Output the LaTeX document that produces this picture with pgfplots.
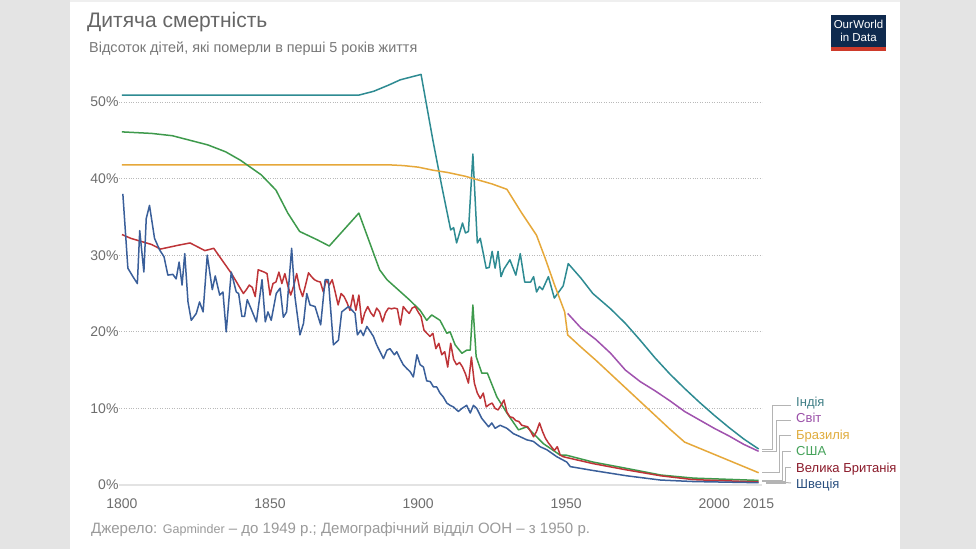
\documentclass[border=0pt]{standalone}
\usepackage{fontspec}
\setmainfont{Liberation Sans}
\usepackage{pgfplots}
\pgfplotsset{compat=1.18}
\definecolor{cIndia}{HTML}{2E8B92}
\definecolor{cWorld}{HTML}{A052AE}
\definecolor{cBrazil}{HTML}{E6A83A}
\definecolor{cUSA}{HTML}{3E9A4C}
\definecolor{cUK}{HTML}{BE3438}
\definecolor{cSweden}{HTML}{3A5F9A}
\definecolor{lIndia}{HTML}{3F7F86}
\definecolor{lWorld}{HTML}{9A4FA8}
\definecolor{lBrazil}{HTML}{E0AC3C}
\definecolor{lUSA}{HTML}{45A25A}
\definecolor{lUK}{HTML}{8B1A2A}
\definecolor{lSweden}{HTML}{2A5080}
\definecolor{panel}{HTML}{E4E4E4}
\definecolor{titlegray}{HTML}{666666}
\definecolor{subgray}{HTML}{777777}
\definecolor{tickgray}{HTML}{6E6E6E}
\definecolor{srcgray}{HTML}{9A9A9A}
\definecolor{owidnavy}{HTML}{0F2A4E}
\definecolor{owidred}{HTML}{CE3A2A}
\definecolor{conn}{HTML}{B4B4B4}
\begin{document}
\begin{tikzpicture}
\fill[white] (0,0) rectangle (976pt,-549pt);
\fill[panel] (0,0) rectangle (70pt,-549pt);
\fill[panel] (900pt,0) rectangle (976pt,-549pt);
\fill[panel!60] (70pt,0) rectangle (900pt,-2pt);
\useasboundingbox (0,0) rectangle (976pt,-549pt);
% title
\node[anchor=base west, inner sep=0, font=\fontsize{21}{25}\selectfont, text=titlegray] at (87pt,-27pt) {Дитяча смертність};
\node[anchor=base west, inner sep=0, font=\fontsize{14.4}{17}\selectfont, text=subgray] at (89pt,-52pt) {Відсоток дітей, які померли в перші 5 років життя};
% logo
\fill[owidnavy] (831pt,-15pt) rectangle (886pt,-47pt);
\fill[owidred] (831pt,-47pt) rectangle (886pt,-51pt);
\node[align=center, inner sep=0, text=white, font=\fontsize{11.5}{12.5}\selectfont] at (858.5pt,-31pt) {Our\kern0.5pt World\\in Data};
\begin{axis}[
  at={(119pt,-485pt)}, anchor=south west,
  scale only axis, width=643.2pt, height=421.3pt,
  xmin=1799, xmax=2016.2, ymin=0, ymax=55,
  axis line style={draw=none}, major tick length=0pt,
  xtick={1800,1850,1900,1950,2000,2015},
  ytick={10,20,30,40,50},
  yticklabel={\pgfmathprintnumber{\tick}\%},
  extra y ticks={0},
  extra y tick labels={0\%},
  extra y tick style={ymajorgrids=true, major grid style={solid, draw=gray!22, line width=1.6pt}},
  ymajorgrids, major grid style={dotted, draw=gray!55, line width=0.7pt},
  /pgf/number format/assume math mode=true,
  /pgf/number format/1000 sep={},
  x tick label style={font=\fontsize{14}{16}\selectfont, text=tickgray, yshift=-10pt},
  y tick label style={font=\fontsize{14}{16}\selectfont, text=tickgray, xshift=3pt},
  every axis plot/.append style={line width=1.5pt, line join=round, mark=none},
]
% India
\addplot[cIndia] coordinates {
(1800,50.9) (1880,50.9) (1885,51.4) (1890,52.2) (1894,52.9) (1897,53.2) (1899,53.4) (1901,53.6)
(1905,45.0) (1908,39.0) (1911,33.3) (1912,33.6) (1913,31.6) (1915,34.2) (1916,32.9) (1917,33.1)
(1918.5,43.2) (1920,31.6) (1921,32.2) (1923,28.3) (1924,28.4) (1925,30.5) (1926,28.3) (1927,30.5)
(1928,27.2) (1929,28.2) (1930,28.8) (1931,29.4) (1933,27.4) (1934.5,30.2) (1936,26.5) (1938,26.5)
(1939,27.2) (1940,25.2) (1941,25.9) (1942,25.5) (1944,27.2) (1946,24.4) (1949,26.0) (1950.7,28.9)
(1955,27.0) (1959,25.0) (1965,23.0) (1970,21.1) (1975,18.9) (1980,16.6) (1985,14.5) (1990,12.6)
(1995,10.8) (2000,9.1) (2005,7.5) (2010,6.0) (2015,4.7)};
% World
\addplot[cWorld] coordinates {
(1950.5,22.4) (1955,20.5) (1960,19.0) (1965,17.2) (1970,15.0) (1975,13.5) (1980,12.3) (1985,11.0)
(1990,9.6) (1995,8.5) (2000,7.4) (2005,6.4) (2010,5.3) (2015,4.4)};
% Brazil
\addplot[cBrazil] coordinates {
(1800,41.8) (1890,41.8) (1895,41.7) (1900,41.5) (1905,41.1) (1910,40.8) (1916,40.3) (1925,39.3)
(1930,38.6) (1935,35.5) (1940,32.6) (1943,29.5) (1946,26.2) (1949.5,22.6) (1950.5,19.6) (1955,18.0)
(1960,16.3) (1965,14.5) (1970,12.7) (1975,10.9) (1980,9.1) (1985,7.3) (1990,5.6) (1995,4.8)
(2000,4.0) (2005,3.2) (2010,2.4) (2015,1.6)};
% USA
\addplot[cUSA] coordinates {
(1800,46.1) (1810,45.9) (1817,45.6) (1823,45.0) (1829,44.4) (1835,43.5) (1840,42.4) (1847,40.5)
(1852,38.5) (1856,35.5) (1860,33.1) (1866,32.0) (1870,31.2) (1880,35.5) (1887,28.1) (1889.5,26.8)
(1897,24.2) (1900.7,22.8) (1902.9,21.5) (1904.6,22.2) (1907.4,21.5) (1909.7,19.8) (1910.8,20.0)
(1912.5,18.3) (1914.8,17.2) (1916.4,17.6) (1917.6,17.6) (1918.5,23.5) (1919.6,16.8) (1921.5,14.6)
(1923.4,14.6) (1926.6,11.5) (1930,9.4) (1933.9,7.2) (1936.7,7.6) (1942.3,5.4) (1948,3.9) (1950,3.9)
(1959,3.0) (1970,2.2) (1982,1.3) (1993,0.9) (2015,0.6)};
% UK
\addplot[cUK] coordinates {
(1800,32.7) (1803,32.2) (1810,31.4) (1813,30.8) (1819,31.3) (1823,31.6) (1828,30.6) (1831,30.9)
(1837,27.6) (1841,25.0) (1842,25.5) (1843,26.1) (1844,25.8) (1845,24.6) (1846,28.1) (1848,27.8)
(1849,27.6) (1850,24.8) (1851,26.3) (1852,26.5) (1853,27.8) (1854,26.3) (1855,27.6) (1856,26.0)
(1857,24.8) (1858,26.0) (1859,27.6) (1860,25.7) (1861,24.6) (1862,26.1) (1863,27.7) (1864,27.2)
(1865,26.8) (1866,26.6) (1867,26.5) (1868,25.2) (1869,26.8) (1870,26.1) (1871,26.8) (1872,25.2)
(1873,23.5) (1874,25.0) (1875,24.6) (1876,23.8) (1877,22.8) (1878,24.8) (1879,22.8) (1880,24.8)
(1881,21.1) (1882,22.5) (1883,23.3) (1884,22.5) (1885,22.0) (1886,23.1) (1887,22.6) (1888,21.3)
(1889,22.5) (1890,23.1) (1891,23.0) (1892,23.1) (1893,23.0) (1894,20.9) (1895,23.3) (1896,22.8)
(1897,22.4) (1898,23.1) (1899,23.3) (1900,22.6) (1901,22.0) (1902,20.2) (1903,19.8) (1904,19.4)
(1905,19.8) (1906,17.8) (1907,18.5) (1908,17.0) (1909,17.4) (1910,15.4) (1911,18.5) (1912,16.4)
(1913,15.7) (1914,16.0) (1915,15.4) (1916,14.5) (1917,13.3) (1918,16.7) (1919,13.3) (1920,12.0)
(1921,11.3) (1922,12.0) (1923,10.2) (1924,10.5) (1925,10.7) (1926,10.0) (1927,9.8) (1928,10.4)
(1929,11.1) (1930,9.5) (1931,8.9) (1932,8.8) (1933,8.4) (1934,8.3) (1935,7.8) (1936,7.7) (1937,7.6)
(1938,7.0) (1939,6.3) (1940,7.0) (1941,8.1) (1942,7.0) (1943,6.1) (1944,5.5) (1945,5.0) (1946,4.5)
(1947,5.0) (1948,3.9) (1949,3.7) (1950,3.6) (1959,2.8) (1970,2.0) (1982,1.2) (1993,0.7) (2015,0.4)};
% Sweden
\addplot[cSweden] coordinates {
(1800.3,38.0) (1802,28.3) (1803.7,27.2) (1805.2,26.3) (1806,33.2) (1807.4,27.8) (1808.2,34.8)
(1809.3,36.5) (1811,32.2) (1812.7,30.7) (1814.2,29.8) (1815.5,27.4) (1817.2,27.5) (1818.3,26.9)
(1819.3,29.1) (1820.3,26.1) (1821.2,30.2) (1822.3,23.9) (1823.4,21.5) (1825.1,22.4) (1826.2,23.9)
(1827.4,22.6) (1828.8,30.0) (1830.5,25.5) (1831.5,27.3) (1833,24.8) (1834.1,25.2) (1835.2,20.0)
(1836.9,27.8) (1838.6,25.2) (1839.4,25.0) (1840.5,22.0) (1841.4,22.0) (1842.3,24.2) (1843.5,23.1)
(1845.4,21.3) (1847.3,26.8) (1848.4,21.3) (1849.3,22.6) (1850.4,21.5) (1852.1,25.0) (1853.4,25.7)
(1854.5,21.9) (1855.6,22.6) (1857.3,30.9) (1858.4,24.6) (1860.1,19.6) (1861.3,21.1) (1862.4,25.0)
(1863.5,23.5) (1865.2,23.3) (1867.1,20.9) (1868.6,26.8) (1869.7,26.8) (1871.4,18.3) (1873.1,18.9)
(1874.2,22.6) (1876.5,23.3) (1878.7,22.4) (1879.5,19.6) (1880.6,20.2) (1881.5,19.5) (1882.7,20.7)
(1884.9,19.4) (1886,18.3) (1888.3,16.5) (1889.5,17.6) (1890.5,17.8) (1892,17.0) (1892.8,17.4)
(1893.9,16.5) (1895,15.7) (1896.2,15.2) (1897.3,14.8) (1898.4,14.1) (1899.6,17.0) (1900.7,15.7)
(1901.8,15.4) (1902.9,13.6) (1904.1,13.5) (1905.2,12.8) (1906.3,12.8) (1907.4,12.0) (1908.5,11.5)
(1909.7,10.7) (1910.8,10.4) (1911.9,10.2) (1913.6,9.6) (1914.8,10.0) (1916.4,10.4) (1917.6,9.4)
(1918.7,10.4) (1919.8,10.0) (1921.5,8.7) (1923.8,7.6) (1924.9,8.1) (1926,7.4) (1927.7,7.8) (1930,7.4)
(1932.2,6.7) (1934.5,6.3) (1936.7,5.9) (1938.9,5.7) (1941.2,5.0) (1943.5,4.6) (1946.8,3.7)
(1950.2,3.0) (1951.4,2.4) (1959,1.9) (1970.5,1.2) (1981.8,0.65) (1993,0.45) (2015,0.3)};
\end{axis}
% connectors
\begin{scope}[conn, line width=1pt]
\draw (762pt,-449pt) -- (772pt,-449pt) -- (772pt,-405pt) -- (791pt,-405pt);
\draw (762pt,-451.5pt) -- (776pt,-451.5pt) -- (776pt,-420pt) -- (791pt,-420pt);
\draw (762pt,-472.7pt) -- (779pt,-472.7pt) -- (779pt,-435pt) -- (791pt,-435pt);
\draw (762pt,-480pt) -- (782pt,-480pt) -- (782pt,-451pt) -- (791pt,-451pt);
\draw (762pt,-481.5pt) -- (785pt,-481.5pt) -- (785pt,-467pt) -- (791pt,-467pt);
\draw[line width=2.5pt] (766pt,-482.5pt) -- (786pt,-482.5pt);
\draw (786pt,-482.5pt) -- (791pt,-483pt);
\end{scope}
\begin{scope}[every node/.style={anchor=base west, inner sep=0, font=\fontsize{13}{15}\selectfont}]
\node[text=lIndia] at (796pt,-406.5pt) {Індія};
\node[text=lWorld] at (796pt,-422.5pt) {Світ};
\node[text=lBrazil] at (796pt,-439pt) {Бразилія};
\node[text=lUSA] at (796pt,-455.5pt) {США};
\node[text=lUK] at (796pt,-472pt) {Велика Британія};
\node[text=lSweden] at (796pt,-488.5pt) {Швеція};
\end{scope}
% source
\node[anchor=base west, inner sep=0, font=\fontsize{15}{17}\selectfont, text=srcgray] at (91pt,-533pt) {Джерело: {\fontsize{12.5}{14}\selectfont Gapminder} – до 1949 р.; Демографічний відділ ООН – з 1950 р.};
\end{tikzpicture}
\end{document}
